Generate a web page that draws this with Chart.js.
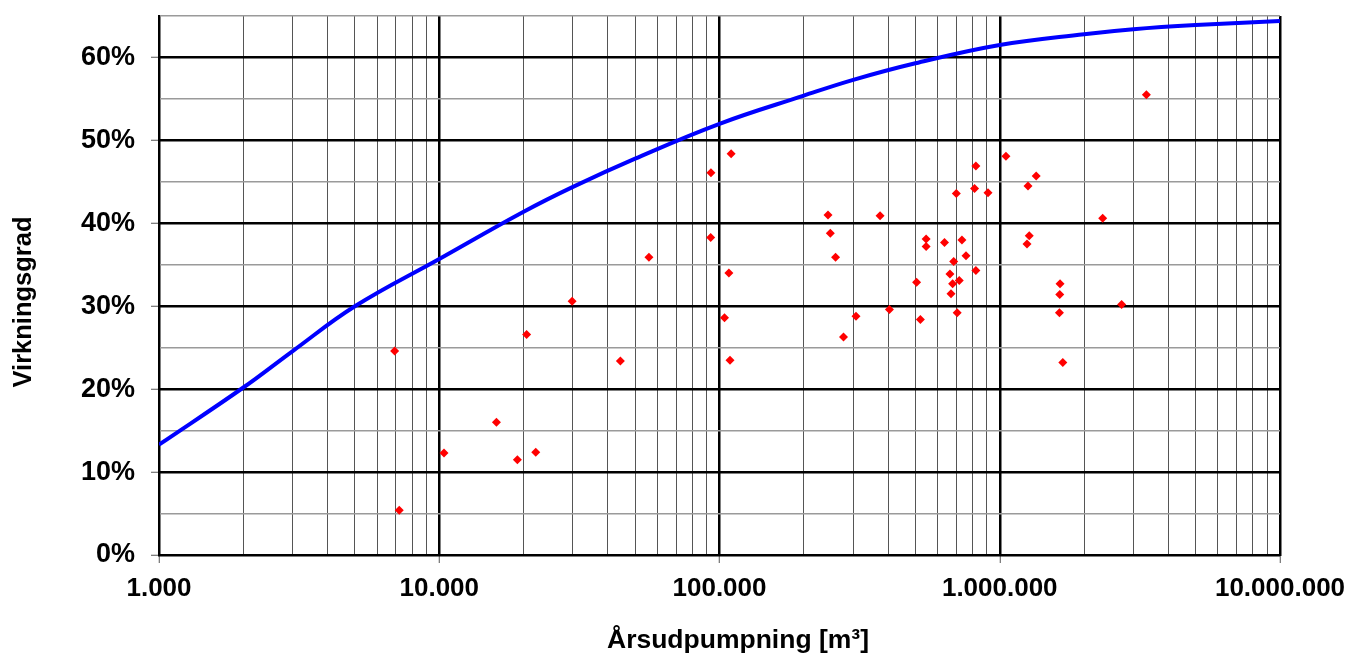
<!DOCTYPE html>
<html>
<head>
<meta charset="utf-8">
<script src="https://cdn.jsdelivr.net/npm/chart.js@4/dist/chart.umd.min.js"></script>
<style>
  html, body { margin: 0; padding: 0; background: #ffffff; }
  #wrap { width: 1353px; height: 657px; }
</style>
</head>
<body>
<div id="wrap"><canvas id="c" width="1353" height="657"></canvas></div>
<script>
// ---- Data ----
// Measured pumps: annual pumping [m3] and efficiency [%]
const pumpVolume = [
  6930, 7200, 10400, 16000, 19000, 20500, 22100, 29800, 44300, 56000,
  93200, 93000, 110000, 104200, 108000, 109000, 243900, 248500, 259500, 277000,
  307000, 374000, 404000, 505000, 521000, 546000, 546000, 635000, 664000, 670000,
  679000, 685000, 700000, 705000, 717000, 733000, 758000, 813000, 822000, 822000,
  908000, 1052000, 1251000, 1261000, 1274000, 1349000, 1633000, 1637000, 1641000, 1679000,
  2330000, 2722000, 3335000
];
const pumpEfficiency = [
  24.6, 5.4, 12.3, 16.0, 11.5, 26.6, 12.4, 30.6, 23.4, 35.9,
  46.1, 38.3, 48.4, 28.6, 34.0, 23.5, 41.0, 38.8, 35.9, 26.3,
  28.8, 40.9, 29.6, 32.9, 28.4, 38.1, 37.2, 37.7, 33.9, 31.5,
  32.7, 35.4, 43.6, 29.2, 33.1, 38.0, 36.1, 44.2, 46.9, 34.3,
  43.7, 48.1, 37.5, 44.5, 38.5, 45.7, 29.2, 31.4, 32.7, 23.2,
  40.6, 30.2, 55.5
];

// Reference curve (blue line), read at grid positions
const curveVolume = [
  1000, 2000, 3000, 5000, 10000, 20000, 30000, 50000, 100000,
  200000, 300000, 500000, 1000000, 2000000, 3000000, 5000000, 10000000
];
const curveEfficiency = [
  13.3, 20.2, 24.6, 30.0, 35.7, 41.4, 44.4, 47.8, 52.0,
  55.4, 57.3, 59.3, 61.5, 62.8, 63.4, 63.9, 64.4
];

// Axis ticks
const xMajorTicks = [1000, 10000, 100000, 1000000, 10000000];
const xTickLabels = ['1.000', '10.000', '100.000', '1.000.000', '10.000.000'];
const yMajorTicks = [0, 10, 20, 30, 40, 50, 60];
const yTickLabels = ['0%', '10%', '20%', '30%', '40%', '50%', '60%'];
const yMinorStep = 5;
const yMax = 65;

const xTitle = 'Årsudpumpning [m³]';
const yTitle = 'Virkningsgrad';

// ---- Build chart ----
const FONT = '"Liberation Sans", Arial, sans-serif';

const scatterData = pumpVolume.map((v, i) => ({ x: v, y: pumpEfficiency[i] }));
const curveData = curveVolume.map((v, i) => ({ x: v, y: curveEfficiency[i] }));

function isXMajor(v) { return xMajorTicks.indexOf(v) !== -1; }
function isYMajor(v) { return yMajorTicks.indexOf(v) !== -1; }

const titlePlugin = {
  id: 'axisTitles',
  afterDraw(chart) {
    const ctx = chart.ctx;
    ctx.save();
    ctx.fillStyle = '#000';
    ctx.textAlign = 'center';
    ctx.textBaseline = 'alphabetic';
    ctx.font = 'bold 26.5px ' + FONT;
    ctx.fillText(xTitle, 738, 648);
    ctx.font = 'bold 25.5px ' + FONT;
    ctx.translate(31, 302);
    ctx.rotate(-Math.PI / 2);
    ctx.fillText(yTitle, 0, 0);
    ctx.restore();
  }
};

new Chart(document.getElementById('c'), {
  type: 'scatter',
  data: {
    datasets: [
      {
        label: 'Kurve',
        data: curveData,
        showLine: true,
        borderColor: '#0000FF',
        borderWidth: 4,
        pointRadius: 0,
        tension: 0.4,
        fill: false,
        order: 1
      },
      {
        label: 'Målinger',
        data: scatterData,
        showLine: false,
        pointStyle: 'rectRot',
        pointRadius: 4.5,
        backgroundColor: '#FF0000',
        borderColor: '#FF0000',
        borderWidth: 0,
        order: 2
      }
    ]
  },
  options: {
    responsive: false,
    animation: false,
    layout: { padding: { top: 16, right: 73, left: 0, bottom: 0 } },
    plugins: { legend: { display: false }, tooltip: { enabled: false } },
    scales: {
      x: {
        type: 'logarithmic',
        min: xMajorTicks[0],
        max: xMajorTicks[xMajorTicks.length - 1],
        afterFit(scale) {
          scale.height = 102;
          scale.paddingLeft = 0;
          scale.paddingRight = 0;
        },
        afterBuildTicks(scale) {
          const t = [];
          for (let d = 0; d < xMajorTicks.length; d++) {
            const base = xMajorTicks[d];
            t.push({ value: base, major: true });
            if (d < xMajorTicks.length - 1) {
              for (let k = 2; k <= 9; k++) t.push({ value: base * k, major: false });
            }
          }
          scale.ticks = t;
        },
        ticks: {
          autoSkip: false,
          maxRotation: 0,
          minRotation: 0,
          padding: 10,
          color: '#000',
          font: { family: FONT, size: 26, weight: 'bold' },
          callback(value) {
            const i = xMajorTicks.indexOf(value);
            return i === -1 ? '' : xTickLabels[i];
          }
        },
        grid: {
          color: (c) => (c.tick && isXMajor(c.tick.value)) ? '#000000' : '#555555',
          lineWidth: (c) => (c.tick && isXMajor(c.tick.value)) ? 2.5 : 1,
          tickLength: 8,
          tickColor: (c) => (c.tick && isXMajor(c.tick.value)) ? '#555555' : 'rgba(0,0,0,0)',
          tickWidth: 1
        },
        border: { display: true, color: '#000', width: 2 }
      },
      y: {
        type: 'linear',
        min: 0,
        max: yMax,
        afterFit(scale) {
          scale.width = 159;
          scale.paddingTop = 0;
          scale.paddingBottom = 0;
        },
        afterBuildTicks(scale) {
          const t = [];
          for (let v = 0; v <= yMax; v += yMinorStep) t.push({ value: v, major: isYMajor(v) });
          scale.ticks = t;
        },
        ticks: {
          autoSkip: false,
          padding: 16,
          color: '#000',
          font: { family: FONT, size: 27, weight: 'bold' },
          callback(value) {
            const i = yMajorTicks.indexOf(value);
            return i === -1 ? '' : yTickLabels[i];
          }
        },
        grid: {
          color: (c) => (c.tick && isYMajor(c.tick.value)) ? '#000000' : '#9a9a9a',
          lineWidth: (c) => (c.tick && isYMajor(c.tick.value)) ? 2.5 : 1.5,
          tickLength: 8,
          tickColor: (c) => (c.tick && isYMajor(c.tick.value)) ? '#555555' : 'rgba(0,0,0,0)',
          tickWidth: 1
        },
        border: { display: true, color: '#000', width: 2 }
      }
    }
  },
  plugins: [titlePlugin]
});
</script>
</body>
</html>
